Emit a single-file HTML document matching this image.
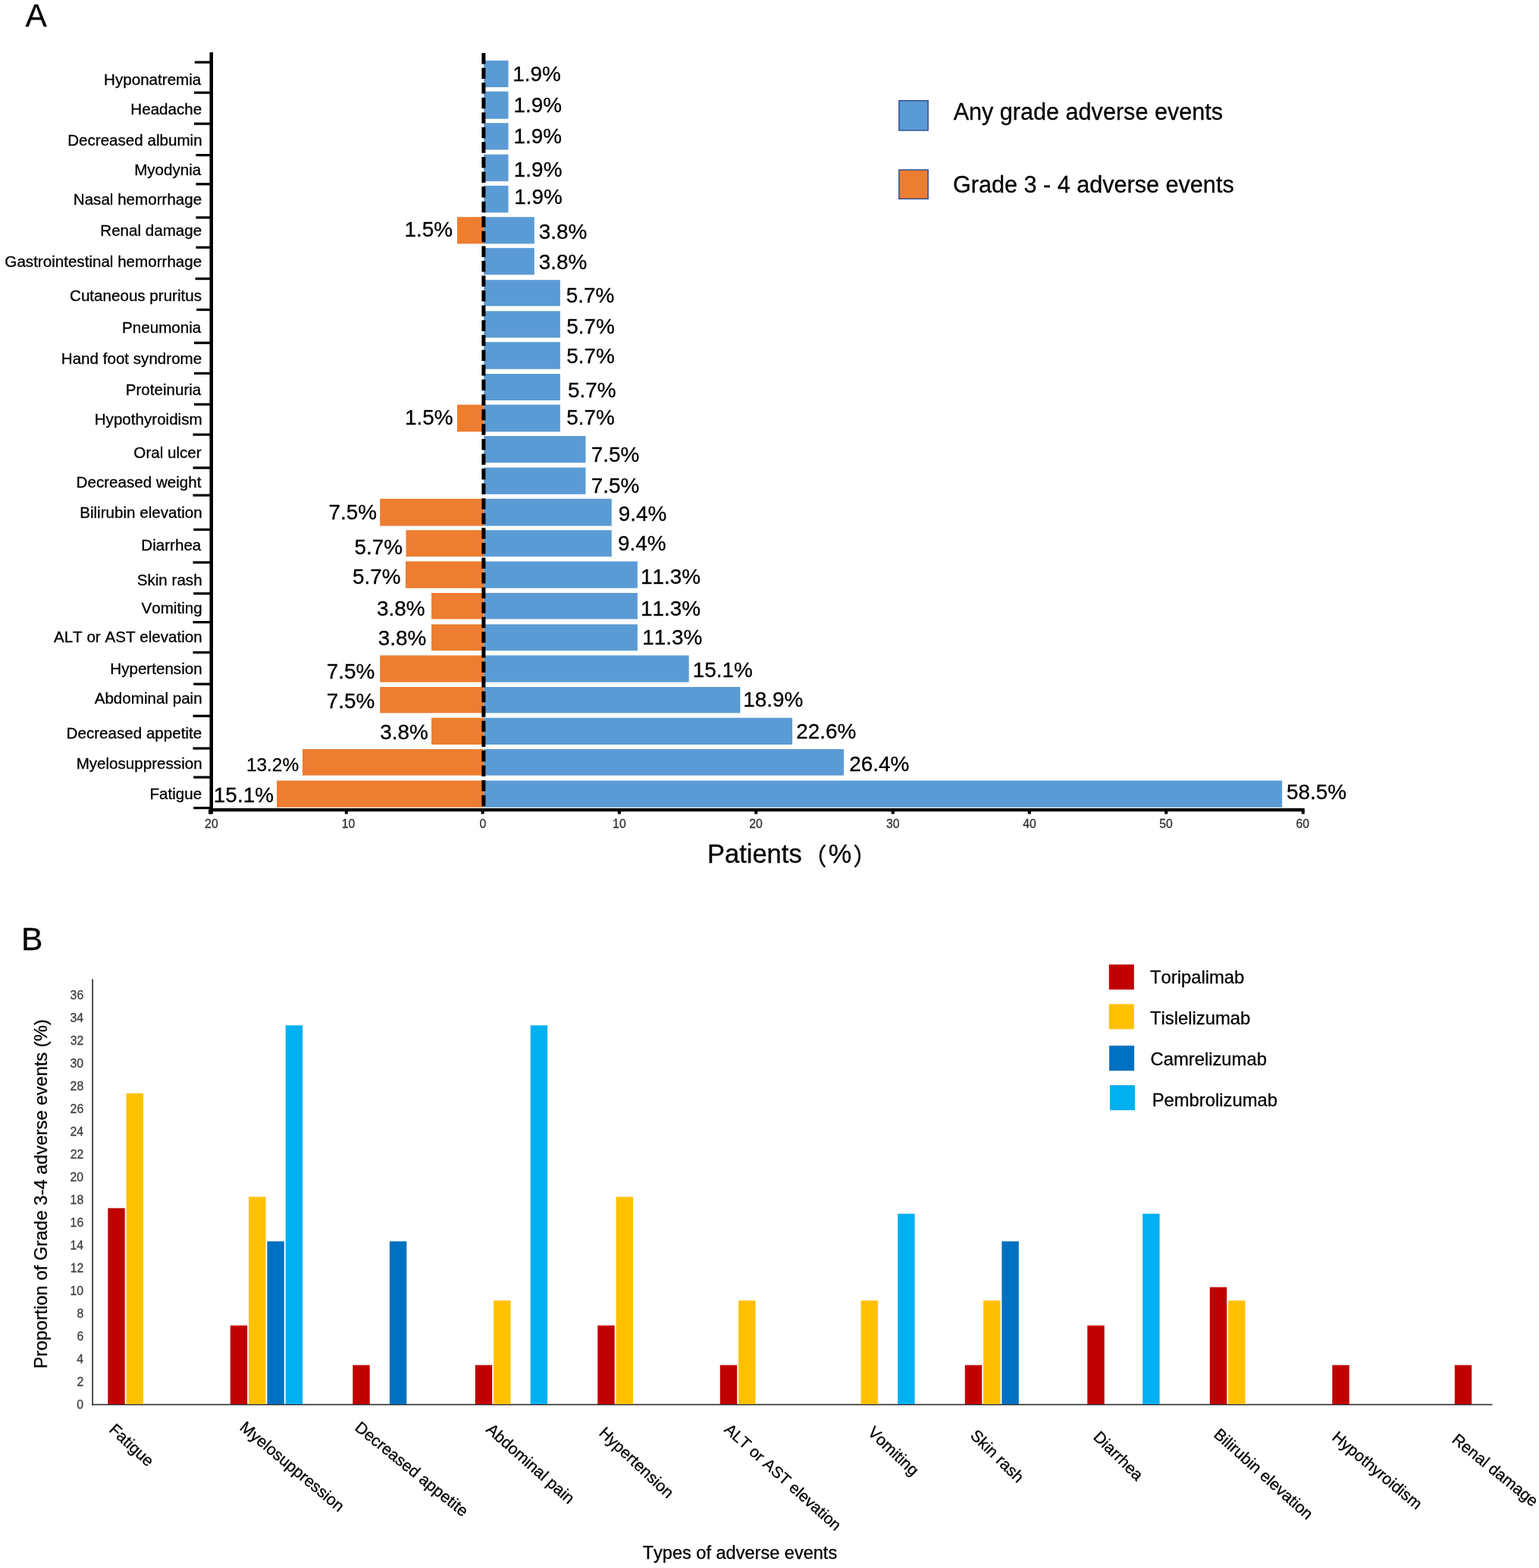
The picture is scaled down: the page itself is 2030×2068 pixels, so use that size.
<!DOCTYPE html>
<html><head><meta charset="utf-8"><title>Adverse events</title>
<style>html,body{margin:0;padding:0;background:#fff;}svg{display:block;}
text{font-family:"Liberation Sans", Arial, Helvetica, sans-serif;font-kerning:none;stroke-width:0.3px;}</style></head>
<body><svg width="2030" height="2068" viewBox="0 0 2030 2068">
<rect x="0" y="0" width="2030" height="2068" fill="#fff"/>
<text x="33.52" y="35.40" font-size="42.5" fill="#000" stroke="#000">A</text>
<rect x="638.20" y="79.80" width="32.30" height="35.20" fill="#5B9BD5"/>
<rect x="638.20" y="120.60" width="32.30" height="36.10" fill="#5B9BD5"/>
<rect x="638.20" y="162.20" width="32.30" height="35.30" fill="#5B9BD5"/>
<rect x="638.20" y="203.70" width="32.30" height="35.40" fill="#5B9BD5"/>
<rect x="638.20" y="244.90" width="32.30" height="35.50" fill="#5B9BD5"/>
<rect x="638.20" y="286.20" width="66.60" height="35.30" fill="#5B9BD5"/>
<rect x="603.00" y="286.20" width="35.20" height="35.30" fill="#ED7D31"/>
<rect x="638.20" y="327.10" width="66.60" height="35.30" fill="#5B9BD5"/>
<rect x="638.20" y="369.20" width="100.70" height="34.40" fill="#5B9BD5"/>
<rect x="638.20" y="410.30" width="100.70" height="35.10" fill="#5B9BD5"/>
<rect x="638.20" y="451.10" width="100.70" height="35.70" fill="#5B9BD5"/>
<rect x="638.20" y="493.10" width="100.70" height="34.90" fill="#5B9BD5"/>
<rect x="638.20" y="533.70" width="100.70" height="35.70" fill="#5B9BD5"/>
<rect x="603.00" y="533.70" width="35.20" height="35.70" fill="#ED7D31"/>
<rect x="638.20" y="575.00" width="134.30" height="35.30" fill="#5B9BD5"/>
<rect x="638.20" y="616.60" width="134.30" height="35.20" fill="#5B9BD5"/>
<rect x="638.20" y="657.80" width="168.60" height="35.80" fill="#5B9BD5"/>
<rect x="501.20" y="657.80" width="137.00" height="35.80" fill="#ED7D31"/>
<rect x="638.20" y="699.20" width="168.60" height="34.90" fill="#5B9BD5"/>
<rect x="535.50" y="699.20" width="102.70" height="34.90" fill="#ED7D31"/>
<rect x="638.20" y="740.40" width="202.70" height="35.30" fill="#5B9BD5"/>
<rect x="535.00" y="740.40" width="103.20" height="35.30" fill="#ED7D31"/>
<rect x="638.20" y="782.00" width="202.70" height="34.50" fill="#5B9BD5"/>
<rect x="569.10" y="782.00" width="69.10" height="34.50" fill="#ED7D31"/>
<rect x="638.20" y="823.40" width="202.70" height="34.70" fill="#5B9BD5"/>
<rect x="569.10" y="823.40" width="69.10" height="34.70" fill="#ED7D31"/>
<rect x="638.20" y="864.40" width="270.50" height="35.30" fill="#5B9BD5"/>
<rect x="501.20" y="864.40" width="137.00" height="35.30" fill="#ED7D31"/>
<rect x="638.20" y="906.00" width="338.20" height="34.40" fill="#5B9BD5"/>
<rect x="501.20" y="906.00" width="137.00" height="34.40" fill="#ED7D31"/>
<rect x="638.20" y="946.70" width="406.90" height="35.30" fill="#5B9BD5"/>
<rect x="569.10" y="946.70" width="69.10" height="35.30" fill="#ED7D31"/>
<rect x="638.20" y="988.00" width="474.80" height="34.70" fill="#5B9BD5"/>
<rect x="399.00" y="988.00" width="239.20" height="34.70" fill="#ED7D31"/>
<rect x="638.20" y="1029.50" width="1053.00" height="35.30" fill="#5B9BD5"/>
<rect x="365.10" y="1029.50" width="273.10" height="35.30" fill="#ED7D31"/>
<line x1="637.9" y1="69.9" x2="637.9" y2="1066" stroke="#000" stroke-width="5" stroke-dasharray="14.5 5.076"/>
<rect x="276.5" y="69" width="4.5" height="1004.5" fill="#000"/>
<rect x="275.5" y="1066" width="1445.2" height="4.3" fill="#000"/>
<rect x="256.80" y="80.50" width="20.20" height="3.20" fill="#000"/>
<rect x="256.00" y="120.60" width="21.00" height="3.20" fill="#000"/>
<rect x="256.00" y="161.60" width="21.00" height="3.20" fill="#000"/>
<rect x="258.40" y="203.00" width="18.60" height="3.20" fill="#000"/>
<rect x="258.40" y="241.20" width="18.60" height="3.20" fill="#000"/>
<rect x="258.40" y="285.30" width="18.60" height="3.20" fill="#000"/>
<rect x="258.40" y="324.70" width="18.60" height="3.20" fill="#000"/>
<rect x="257.60" y="366.00" width="19.40" height="3.20" fill="#000"/>
<rect x="259.20" y="406.90" width="17.80" height="3.20" fill="#000"/>
<rect x="256.00" y="450.60" width="21.00" height="3.20" fill="#000"/>
<rect x="256.00" y="490.80" width="21.00" height="3.20" fill="#000"/>
<rect x="256.00" y="531.70" width="21.00" height="3.20" fill="#000"/>
<rect x="254.50" y="571.60" width="22.50" height="3.20" fill="#000"/>
<rect x="254.50" y="615.40" width="22.50" height="3.20" fill="#000"/>
<rect x="254.50" y="651.60" width="22.50" height="3.20" fill="#000"/>
<rect x="255.20" y="696.90" width="21.80" height="3.20" fill="#000"/>
<rect x="254.50" y="740.20" width="22.50" height="3.20" fill="#000"/>
<rect x="255.20" y="781.20" width="21.80" height="3.20" fill="#000"/>
<rect x="254.50" y="819.00" width="22.50" height="3.20" fill="#000"/>
<rect x="254.50" y="858.90" width="22.50" height="3.20" fill="#000"/>
<rect x="255.20" y="900.60" width="21.80" height="3.20" fill="#000"/>
<rect x="254.50" y="942.70" width="22.50" height="3.20" fill="#000"/>
<rect x="254.50" y="985.40" width="22.50" height="3.20" fill="#000"/>
<rect x="255.20" y="1023.50" width="21.80" height="3.20" fill="#000"/>
<rect x="255.20" y="1064.00" width="21.80" height="3.20" fill="#000"/>
<rect x="275.00" y="1068.00" width="4.00" height="5.60" fill="#000"/>
<text x="270.12" y="1092.00" font-size="15.8" fill="#333333" stroke="#333333">20</text>
<rect x="454.90" y="1068.00" width="4.00" height="5.60" fill="#000"/>
<text x="450.72" y="1092.00" font-size="15.8" fill="#333333" stroke="#333333">10</text>
<rect x="634.60" y="1068.00" width="4.00" height="5.60" fill="#000"/>
<text x="632.61" y="1092.00" font-size="15.8" fill="#333333" stroke="#333333">0</text>
<rect x="814.90" y="1068.00" width="4.00" height="5.60" fill="#000"/>
<text x="808.12" y="1092.00" font-size="15.8" fill="#333333" stroke="#333333">10</text>
<rect x="995.20" y="1068.00" width="4.00" height="5.60" fill="#000"/>
<text x="988.32" y="1092.00" font-size="15.8" fill="#333333" stroke="#333333">20</text>
<rect x="1175.70" y="1068.00" width="4.00" height="5.60" fill="#000"/>
<text x="1168.92" y="1092.00" font-size="15.8" fill="#333333" stroke="#333333">30</text>
<rect x="1355.80" y="1068.00" width="4.00" height="5.60" fill="#000"/>
<text x="1349.14" y="1092.00" font-size="15.8" fill="#333333" stroke="#333333">40</text>
<rect x="1536.20" y="1068.00" width="4.00" height="5.60" fill="#000"/>
<text x="1529.21" y="1092.00" font-size="15.8" fill="#333333" stroke="#333333">50</text>
<rect x="1716.80" y="1068.00" width="4.00" height="5.60" fill="#000"/>
<text x="1709.42" y="1092.00" font-size="15.8" fill="#333333" stroke="#333333">60</text>
<text x="265.30" y="112.30" font-size="20.6" fill="#000" stroke="#000" text-anchor="end">Hyponatremia</text>
<text x="266.22" y="151.40" font-size="20.6" fill="#000" stroke="#000" text-anchor="end">Headache</text>
<text x="266.64" y="192.00" font-size="20.6" fill="#000" stroke="#000" text-anchor="end">Decreased albumin</text>
<text x="265.30" y="231.00" font-size="20.6" fill="#000" stroke="#000" text-anchor="end">Myodynia</text>
<text x="266.22" y="270.30" font-size="20.6" fill="#000" stroke="#000" text-anchor="end">Nasal hemorrhage</text>
<text x="266.22" y="311.30" font-size="20.6" fill="#000" stroke="#000" text-anchor="end">Renal damage</text>
<text x="266.22" y="352.30" font-size="20.6" fill="#000" stroke="#000" text-anchor="end">Gastrointestinal hemorrhage</text>
<text x="266.04" y="396.70" font-size="20.6" fill="#000" stroke="#000" text-anchor="end">Cutaneous pruritus</text>
<text x="265.30" y="438.50" font-size="20.6" fill="#000" stroke="#000" text-anchor="end">Pneumonia</text>
<text x="266.22" y="479.90" font-size="20.6" fill="#000" stroke="#000" text-anchor="end">Hand foot syndrome</text>
<text x="265.30" y="521.20" font-size="20.6" fill="#000" stroke="#000" text-anchor="end">Proteinuria</text>
<text x="266.66" y="559.80" font-size="20.6" fill="#000" stroke="#000" text-anchor="end">Hypothyroidism</text>
<text x="265.64" y="603.90" font-size="20.6" fill="#000" stroke="#000" text-anchor="end">Oral ulcer</text>
<text x="265.45" y="642.90" font-size="20.6" fill="#000" stroke="#000" text-anchor="end">Decreased weight</text>
<text x="266.64" y="682.70" font-size="20.6" fill="#000" stroke="#000" text-anchor="end">Bilirubin elevation</text>
<text x="265.30" y="726.40" font-size="20.6" fill="#000" stroke="#000" text-anchor="end">Diarrhea</text>
<text x="266.64" y="772.00" font-size="20.6" fill="#000" stroke="#000" text-anchor="end">Skin rash</text>
<text x="266.63" y="808.80" font-size="20.6" fill="#000" stroke="#000" text-anchor="end">Vomiting</text>
<text x="266.64" y="847.00" font-size="20.6" fill="#000" stroke="#000" text-anchor="end">ALT or AST elevation</text>
<text x="266.64" y="888.80" font-size="20.6" fill="#000" stroke="#000" text-anchor="end">Hypertension</text>
<text x="266.64" y="928.20" font-size="20.6" fill="#000" stroke="#000" text-anchor="end">Abdominal pain</text>
<text x="266.22" y="973.60" font-size="20.6" fill="#000" stroke="#000" text-anchor="end">Decreased appetite</text>
<text x="266.64" y="1013.60" font-size="20.6" fill="#000" stroke="#000" text-anchor="end">Myelosuppression</text>
<text x="266.22" y="1054.30" font-size="20.6" fill="#000" stroke="#000" text-anchor="end">Fatigue</text>
<text x="676.17" y="107.40" font-size="27.9" fill="#000" stroke="#000">1.9%</text>
<text x="677.47" y="148.40" font-size="27.9" fill="#000" stroke="#000">1.9%</text>
<text x="677.47" y="188.60" font-size="27.9" fill="#000" stroke="#000">1.9%</text>
<text x="677.87" y="232.50" font-size="27.9" fill="#000" stroke="#000">1.9%</text>
<text x="678.27" y="269.00" font-size="27.9" fill="#000" stroke="#000">1.9%</text>
<text x="710.74" y="314.70" font-size="27.9" fill="#000" stroke="#000">3.8%</text>
<text x="710.74" y="355.10" font-size="27.9" fill="#000" stroke="#000">3.8%</text>
<text x="746.78" y="399.00" font-size="27.9" fill="#000" stroke="#000">5.7%</text>
<text x="747.18" y="440.20" font-size="27.9" fill="#000" stroke="#000">5.7%</text>
<text x="747.18" y="479.00" font-size="27.9" fill="#000" stroke="#000">5.7%</text>
<text x="748.88" y="524.20" font-size="27.9" fill="#000" stroke="#000">5.7%</text>
<text x="747.18" y="559.50" font-size="27.9" fill="#000" stroke="#000">5.7%</text>
<text x="779.67" y="608.70" font-size="27.9" fill="#000" stroke="#000">7.5%</text>
<text x="779.67" y="649.80" font-size="27.9" fill="#000" stroke="#000">7.5%</text>
<text x="815.79" y="687.30" font-size="27.9" fill="#000" stroke="#000">9.4%</text>
<text x="814.99" y="725.70" font-size="27.9" fill="#000" stroke="#000">9.4%</text>
<text x="845.07" y="770.30" font-size="27.9" fill="#000" stroke="#000">11.3%</text>
<text x="845.07" y="811.80" font-size="27.9" fill="#000" stroke="#000">11.3%</text>
<text x="847.17" y="849.50" font-size="27.9" fill="#000" stroke="#000">11.3%</text>
<text x="913.77" y="892.50" font-size="27.9" fill="#000" stroke="#000">15.1%</text>
<text x="980.17" y="932.40" font-size="27.9" fill="#000" stroke="#000">18.9%</text>
<text x="1050.20" y="973.60" font-size="27.9" fill="#000" stroke="#000">22.6%</text>
<text x="1120.20" y="1016.50" font-size="27.9" fill="#000" stroke="#000">26.4%</text>
<text x="1697.08" y="1054.40" font-size="27.9" fill="#000" stroke="#000">58.5%</text>
<text x="533.57" y="312.00" font-size="27.9" fill="#000" stroke="#000">1.5%</text>
<text x="533.97" y="559.90" font-size="27.9" fill="#000" stroke="#000">1.5%</text>
<text x="433.57" y="684.70" font-size="27.9" fill="#000" stroke="#000">7.5%</text>
<text x="467.58" y="730.80" font-size="27.9" fill="#000" stroke="#000">5.7%</text>
<text x="464.98" y="769.60" font-size="27.9" fill="#000" stroke="#000">5.7%</text>
<text x="497.04" y="811.80" font-size="27.9" fill="#000" stroke="#000">3.8%</text>
<text x="498.64" y="850.50" font-size="27.9" fill="#000" stroke="#000">3.8%</text>
<text x="430.67" y="894.60" font-size="27.9" fill="#000" stroke="#000">7.5%</text>
<text x="430.67" y="934.10" font-size="27.9" fill="#000" stroke="#000">7.5%</text>
<text x="501.24" y="974.50" font-size="27.9" fill="#000" stroke="#000">3.8%</text>
<text x="324.94" y="1016.50" font-size="24.4" fill="#000" stroke="#000">13.2%</text>
<text x="281.87" y="1057.70" font-size="27.9" fill="#000" stroke="#000">15.1%</text>
<text x="932.97" y="1138.40" font-size="34.5" fill="#000" stroke="#000">Patients</text>
<text x="1058.94" y="1141.17" font-size="31.6" fill="#000" stroke="#000" style="font-family:'Noto Sans CJK SC','Noto Sans CJK JP',sans-serif">（</text>
<text x="1092.68" y="1138.40" font-size="34.3" fill="#000" stroke="#000">%</text>
<text x="1125.26" y="1141.17" font-size="31.6" fill="#000" stroke="#000" style="font-family:'Noto Sans CJK SC','Noto Sans CJK JP',sans-serif">）</text>
<rect x="1185.85" y="132.75" width="38.30" height="39.20" fill="#5B9BD5" stroke="#2F528F" stroke-width="1.5"/>
<rect x="1185.85" y="224.05" width="38.30" height="38.20" fill="#ED7D31" stroke="#2F528F" stroke-width="1.5"/>
<text x="1257.64" y="157.80" font-size="30.6" fill="#000" stroke="#000">Any grade adverse events</text>
<text x="1256.96" y="254.40" font-size="30.6" fill="#000" stroke="#000">Grade 3 - 4 adverse events</text>
<text x="28.01" y="1252.80" font-size="42.5" fill="#000" stroke="#000">B</text>
<rect x="121.3" y="1291.4" width="1.6" height="562" fill="#2a2a2a"/>
<rect x="121.3" y="1851.7" width="1847.2" height="1.6" fill="#2a2a2a"/>
<text x="110.12" y="1857.60" font-size="15.8" fill="#404040" stroke="#404040" text-anchor="end">0</text>
<text x="110.29" y="1827.63" font-size="15.8" fill="#404040" stroke="#404040" text-anchor="end">2</text>
<text x="109.96" y="1797.66" font-size="15.8" fill="#404040" stroke="#404040" text-anchor="end">4</text>
<text x="110.19" y="1767.69" font-size="15.8" fill="#404040" stroke="#404040" text-anchor="end">6</text>
<text x="110.19" y="1737.72" font-size="15.8" fill="#404040" stroke="#404040" text-anchor="end">8</text>
<text x="110.12" y="1707.75" font-size="15.8" fill="#404040" stroke="#404040" text-anchor="end">10</text>
<text x="110.29" y="1677.78" font-size="15.8" fill="#404040" stroke="#404040" text-anchor="end">12</text>
<text x="109.96" y="1647.81" font-size="15.8" fill="#404040" stroke="#404040" text-anchor="end">14</text>
<text x="110.19" y="1617.84" font-size="15.8" fill="#404040" stroke="#404040" text-anchor="end">16</text>
<text x="110.19" y="1587.87" font-size="15.8" fill="#404040" stroke="#404040" text-anchor="end">18</text>
<text x="110.12" y="1557.90" font-size="15.8" fill="#404040" stroke="#404040" text-anchor="end">20</text>
<text x="110.29" y="1527.93" font-size="15.8" fill="#404040" stroke="#404040" text-anchor="end">22</text>
<text x="109.96" y="1497.96" font-size="15.8" fill="#404040" stroke="#404040" text-anchor="end">24</text>
<text x="110.19" y="1467.99" font-size="15.8" fill="#404040" stroke="#404040" text-anchor="end">26</text>
<text x="110.19" y="1438.02" font-size="15.8" fill="#404040" stroke="#404040" text-anchor="end">28</text>
<text x="110.12" y="1408.05" font-size="15.8" fill="#404040" stroke="#404040" text-anchor="end">30</text>
<text x="110.29" y="1378.08" font-size="15.8" fill="#404040" stroke="#404040" text-anchor="end">32</text>
<text x="109.96" y="1348.11" font-size="15.8" fill="#404040" stroke="#404040" text-anchor="end">34</text>
<text x="110.19" y="1318.14" font-size="15.8" fill="#404040" stroke="#404040" text-anchor="end">36</text>
<rect x="142.30" y="1593.40" width="22.40" height="258.60" fill="#C00000"/>
<rect x="166.60" y="1442.00" width="22.40" height="410.00" fill="#FFC000"/>
<rect x="303.80" y="1748.20" width="22.40" height="103.80" fill="#C00000"/>
<rect x="328.10" y="1578.50" width="22.40" height="273.50" fill="#FFC000"/>
<rect x="352.40" y="1637.20" width="22.40" height="214.80" fill="#0070C0"/>
<rect x="376.70" y="1352.30" width="22.40" height="499.70" fill="#00B0F0"/>
<rect x="465.30" y="1800.40" width="22.40" height="51.60" fill="#C00000"/>
<rect x="513.90" y="1637.20" width="22.40" height="214.80" fill="#0070C0"/>
<rect x="626.80" y="1800.40" width="22.40" height="51.60" fill="#C00000"/>
<rect x="651.10" y="1715.30" width="22.40" height="136.70" fill="#FFC000"/>
<rect x="699.70" y="1352.30" width="22.40" height="499.70" fill="#00B0F0"/>
<rect x="788.30" y="1748.20" width="22.40" height="103.80" fill="#C00000"/>
<rect x="812.60" y="1578.50" width="22.40" height="273.50" fill="#FFC000"/>
<rect x="949.80" y="1800.40" width="22.40" height="51.60" fill="#C00000"/>
<rect x="974.10" y="1715.30" width="22.40" height="136.70" fill="#FFC000"/>
<rect x="1135.60" y="1715.30" width="22.40" height="136.70" fill="#FFC000"/>
<rect x="1184.20" y="1600.80" width="22.40" height="251.20" fill="#00B0F0"/>
<rect x="1272.80" y="1800.40" width="22.40" height="51.60" fill="#C00000"/>
<rect x="1297.10" y="1715.30" width="22.40" height="136.70" fill="#FFC000"/>
<rect x="1321.40" y="1637.20" width="22.40" height="214.80" fill="#0070C0"/>
<rect x="1434.30" y="1748.20" width="22.40" height="103.80" fill="#C00000"/>
<rect x="1507.20" y="1600.80" width="22.40" height="251.20" fill="#00B0F0"/>
<rect x="1595.80" y="1697.60" width="22.40" height="154.40" fill="#C00000"/>
<rect x="1620.10" y="1715.30" width="22.40" height="136.70" fill="#FFC000"/>
<rect x="1757.30" y="1800.40" width="22.40" height="51.60" fill="#C00000"/>
<rect x="1918.80" y="1800.40" width="22.40" height="51.60" fill="#C00000"/>
<rect x="1462.80" y="1272.10" width="33.00" height="33.00" fill="#C00000"/>
<text x="1516.97" y="1297.40" font-size="23.8" fill="#000" stroke="#000">Toripalimab</text>
<rect x="1462.80" y="1324.30" width="33.00" height="33.00" fill="#FFC000"/>
<text x="1516.97" y="1350.70" font-size="23.8" fill="#000" stroke="#000">Tislelizumab</text>
<rect x="1463.10" y="1379.10" width="33.00" height="33.00" fill="#0070C0"/>
<text x="1517.49" y="1405.10" font-size="23.8" fill="#000" stroke="#000">Camrelizumab</text>
<rect x="1464.00" y="1431.20" width="33.00" height="33.00" fill="#00B0F0"/>
<text x="1519.65" y="1458.50" font-size="23.8" fill="#000" stroke="#000">Pembrolizumab</text>
<text transform="translate(142.80 1887.00) rotate(43)" x="0" y="0" font-size="21.3" fill="#000" stroke="#000">Fatigue</text>
<text transform="translate(315.10 1884.50) rotate(40)" x="0" y="0" font-size="21.3" fill="#000" stroke="#000">Myelosuppression</text>
<text transform="translate(466.70 1885.00) rotate(39)" x="0" y="0" font-size="21.3" fill="#000" stroke="#000">Decreased appetite</text>
<text transform="translate(639.90 1887.10) rotate(41.5)" x="0" y="0" font-size="21.3" fill="#000" stroke="#000">Abdominal pain</text>
<text transform="translate(788.90 1891.30) rotate(43.2)" x="0" y="0" font-size="21.3" fill="#000" stroke="#000">Hypertension</text>
<text transform="translate(954.20 1887.00) rotate(42)" x="0" y="0" font-size="20.9" fill="#000" stroke="#000">ALT or AST elevation</text>
<text transform="translate(1143.40 1890.50) rotate(43.5)" x="0" y="0" font-size="21.3" fill="#000" stroke="#000">Vomiting</text>
<text transform="translate(1278.70 1894.60) rotate(44.5)" x="0" y="0" font-size="21.3" fill="#000" stroke="#000">Skin rash</text>
<text transform="translate(1440.90 1896.50) rotate(44.5)" x="0" y="0" font-size="21.3" fill="#000" stroke="#000">Diarrhea</text>
<text transform="translate(1599.80 1893.60) rotate(42)" x="0" y="0" font-size="21.3" fill="#000" stroke="#000">Bilirubin elevation</text>
<text transform="translate(1755.80 1897.50) rotate(40)" x="0" y="0" font-size="21.3" fill="#000" stroke="#000">Hypothyroidism</text>
<text transform="translate(1913.90 1900.90) rotate(39)" x="0" y="0" font-size="21.3" fill="#000" stroke="#000">Renal damage</text>
<text transform="translate(62.4 1805) rotate(-90)" x="0" y="0" font-size="23.75" fill="#000" stroke="#000">Proportion of Grade 3-4 adverse events (%)</text>
<text x="847.67" y="2055.70" font-size="23.55" fill="#000" stroke="#000">Types of adverse events</text>
</svg></body></html>
